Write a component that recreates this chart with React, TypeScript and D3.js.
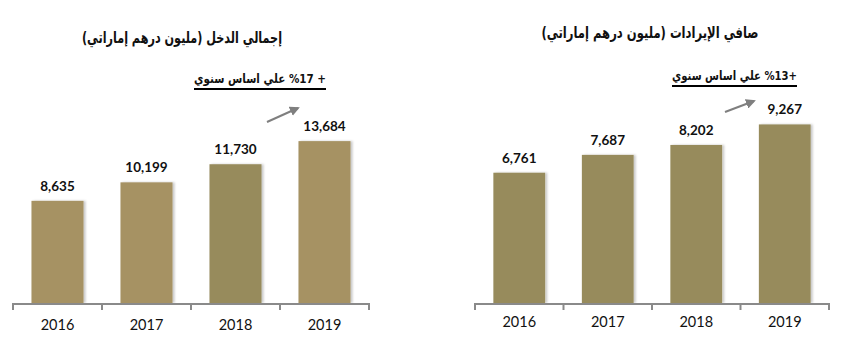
import * as d3 from 'd3';

const years = ['2016', '2017', '2018', '2019'];
const incomeValues = [8635, 10199, 11730, 13684];
const revenueValues = [6761, 7687, 8202, 9267];

const incomeTitle = 'إجمالي الدخل (مليون درهم إماراتي)';
const revenueTitle = 'صافي الإيرادات (مليون درهم إماراتي)';
const incomeGrowth = '+ %17 علي اساس سنوي';
const revenueGrowth = '+%13 علي اساس سنوي';

const TAN = '#a69264';
const OLIVE = '#978b5c';
const AXIS = '#8a8a8a';
const ARROW = '#7f7f7f';

interface PanelProps {
  values: number[];
  colors: string[];
  title: string;
  titleX: number;
  titleY: number;
  titleW: number;
  growth: string;
  growthX: number;
  growthY: number;
  growthW: number;
  x0: number;
  x1: number;
  yMax: number;
  yTop: number;
  arrowFrom: [number, number];
  arrowTo: [number, number];
  yearY: number;
}

const BASE = 303;

function Panel(p: PanelProps) {
  const x = d3.scaleBand<string>().domain(years).range([p.x0, p.x1]).paddingInner(0.415).paddingOuter(0.2075);
  const y = d3.scaleLinear().domain([0, p.yMax]).range([BASE, p.yTop]);
  const step = x.step();
  const ticks = d3.range(years.length + 1).map((i) => p.x0 + i * step);
  const fmt = d3.format(',');
  return (
    <g>
      <text
        x={p.titleX + p.titleW / 2}
        y={p.titleY}
        textAnchor="start"
        direction="rtl"
        textLength={p.titleW}
        lengthAdjust="spacingAndGlyphs"
        style={{ fontFamily: 'DejaVu Sans, sans-serif', fontWeight: 700, fontSize: 16 }}
        fill="#111"
      >
        {p.title}
      </text>
      <text
        x={p.growthX}
        y={p.growthY}
        textAnchor="start"
        direction="rtl"
        textLength={p.growthW}
        lengthAdjust="spacingAndGlyphs"
        style={{ fontFamily: 'DejaVu Sans, sans-serif', fontWeight: 700, fontSize: 13 }}
        fill="#111"
      >
        {p.growth}
      </text>
      <line x1={p.growthX - p.growthW} x2={p.growthX} y1={p.growthY + 6} y2={p.growthY + 6} stroke="#000" strokeWidth={2.2} />
      <line
        x1={p.arrowFrom[0]}
        y1={p.arrowFrom[1]}
        x2={p.arrowTo[0]}
        y2={p.arrowTo[1]}
        stroke={ARROW}
        strokeWidth={2}
        markerEnd="url(#arrowHead)"
      />
      {p.values.map((v, i) => (
        <rect
          key={years[i]}
          x={x(years[i])}
          y={y(v)}
          width={x.bandwidth()}
          height={BASE - y(v)}
          fill={p.colors[i]}
          filter="url(#barShadow)"
        />
      ))}
      {p.values.map((v, i) => (
        <text
          key={'v' + years[i]}
          x={(x(years[i]) ?? 0) + x.bandwidth() / 2}
          y={y(v) - 10}
          textAnchor="middle"
          style={{ fontFamily: 'Lato, sans-serif', fontWeight: 700, fontSize: 13.5 }}
          fill="#111"
        >
          {fmt(v)}
        </text>
      ))}
      <line x1={p.x0} x2={p.x1} y1={BASE + 1} y2={BASE + 1} stroke={AXIS} strokeWidth={2} />
      {ticks.map((t, i) => (
        <line key={'t' + i} x1={t} x2={t} y1={BASE} y2={BASE + 7} stroke={AXIS} strokeWidth={2} />
      ))}
      {years.map((yr) => (
        <text
          key={'y' + yr}
          x={(x(yr) ?? 0) + x.bandwidth() / 2}
          y={p.yearY}
          textAnchor="middle"
          style={{ fontFamily: 'Lato, sans-serif', fontSize: 14.5 }}
          fill="#111"
        >
          {yr}
        </text>
      ))}
    </g>
  );
}

export default function App() {
  return (
    <svg
      width={844}
      height={354}
      style={{ position: 'absolute', left: 0, top: 0, background: '#fff' }}
    >
      <defs>
        <marker id="arrowHead" viewBox="0 0 10 10" refX="8" refY="5" markerWidth="5" markerHeight="5" orient="auto">
          <path d="M0,0 L10,5 L0,10 z" fill={ARROW} />
        </marker>
        <filter id="barShadow" x="-10%" y="-10%" width="130%" height="120%">
          <feDropShadow dx="2" dy="0" stdDeviation="1.2" floodColor="#000" floodOpacity="0.22" />
        </filter>
      </defs>
      <Panel
        values={incomeValues}
        colors={[TAN, TAN, OLIVE, TAN]}
        title={incomeTitle}
        titleX={182}
        titleY={43}
        titleW={200}
        growth={incomeGrowth}
        growthX={326}
        growthY={83}
        growthW={132}
        x0={13}
        x1={369}
        yMax={16000}
        yTop={303 - 16000 * 0.01183}
        arrowFrom={[267, 122]}
        arrowTo={[298, 108]}
        yearY={330}
      />
      <Panel
        values={revenueValues}
        colors={[OLIVE, OLIVE, OLIVE, OLIVE]}
        title={revenueTitle}
        titleX={650}
        titleY={38}
        titleW={217}
        growth={revenueGrowth}
        growthX={797}
        growthY={80}
        growthW={125}
        x0={475}
        x1={829}
        yMax={10000}
        yTop={303 - 10000 * 0.01927}
        arrowFrom={[725, 112]}
        arrowTo={[754, 101]}
        yearY={327}
      />
    </svg>
  );
}
